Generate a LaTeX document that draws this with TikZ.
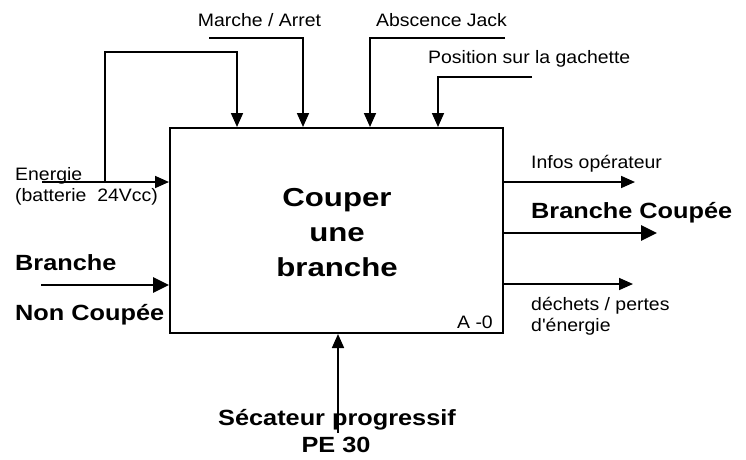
\documentclass[tikz,border=0pt]{standalone}
\usepackage{fontspec}
\setmainfont{Liberation Sans}
\newfontfamily\lblfont[FakeStretch=1.08]{Liberation Sans}
\newfontfamily\bldfont[FakeStretch=1.15]{Liberation Sans}
\newfontfamily\ctrfont[FakeStretch=1.2]{Liberation Sans}
\usetikzlibrary{arrows.meta}
\tikzset{
  lbl/.style={inner sep=0pt, font=\lblfont\fontsize{18}{20}\selectfont},
  bld/.style={inner sep=0pt, font=\bldfont\bfseries\fontsize{22}{26}\selectfont},
  conn/.style={line width=1.7pt, -{Triangle[length=14pt,width=12pt]}},
  thickconn/.style={line width=2.8pt, -{Triangle[length=16pt,width=15pt]}},
  fbox/.style={draw, line width=2pt, minimum width=333pt, minimum height=205pt, inner sep=0pt}
}
\begin{document}
\begin{tikzpicture}[x=1pt,y=-1pt]
\useasboundingbox (0,0) rectangle (746,459);
% main box
\node[fbox] (box) at (336.5,230.5) {};
\node[inner sep=0pt, align=center, font=\ctrfont\bfseries\fontsize{26}{35}\selectfont, anchor=base] (title) at (337,276) {Couper\\une\\branche};
\node[lbl, anchor=base east] (a0) at (493,328) {A -0};

% top labels
\node[lbl, anchor=base] (marche) at (259.5,26) {Marche / Arret};
\node[lbl, anchor=base west] (jack) at (376,26) {Abscence Jack};
\node[lbl, anchor=base west] (pos) at (428,63) {Position sur la gachette};

% left labels
\node[lbl, anchor=base west] (energie) at (15,180) {Energie};
\node[lbl, anchor=base west] (batt) at (15,201) {(batterie\ \ 24Vcc)};
\node[bld, anchor=base west] (br1) at (15,270) {Branche};
\node[bld, anchor=base west] (br2) at (15,320) {Non Coupée};

% right labels
\node[lbl, anchor=base west] (infos) at (531,168) {Infos opérateur};
\node[bld, anchor=base west] (brc) at (531,218) {Branche Coupée};
\node[lbl, anchor=base west] (dech1) at (531,310) {déchets / pertes};
\node[lbl, anchor=base west] (dech2) at (531,331) {d'énergie};

% bottom label
\node[bld, anchor=base] (sec1) at (337,425) {Sécateur progressif};
\node[bld, anchor=base] (sec2) at (336,452) {PE 30};

% coordinates
\coordinate (eS) at (42,182);
\coordinate (eJ) at (105,182);
\coordinate (eT1) at (105,52);
\coordinate (eT2) at (237,52);
\coordinate (mS) at (209,38);
\coordinate (mC) at (303,38);
\coordinate (jS) at (505,38);
\coordinate (jC) at (370,38);
\coordinate (pS) at (532,77);
\coordinate (pC) at (438,77);
\coordinate (bS) at (41,285);
\coordinate (sS) at (338,433);
\coordinate (oI) at (635,182);
\coordinate (oB) at (657,233);
\coordinate (oD) at (633,284);

% inputs
\draw[conn] (eS) -- (box.west |- eS);
\draw[conn] (eJ) -- (eT1) -- (eT2) -- (box.north -| eT2);
\draw[conn] (mS) -- (mC) -- (box.north -| mC);
\draw[conn] (jS) -- (jC) -- (box.north -| jC);
\draw[conn] (pS) -- (pC) -- (box.north -| pC);
\draw[thickconn] (bS) -- (box.west |- bS);
\draw[conn] (sS) -- (box.south -| sS);
% outputs
\draw[conn] (box.east |- oI) -- (oI);
\draw[thickconn] (box.east |- oB) -- (oB);
\draw[conn] (box.east |- oD) -- (oD);
\end{tikzpicture}
\end{document}
